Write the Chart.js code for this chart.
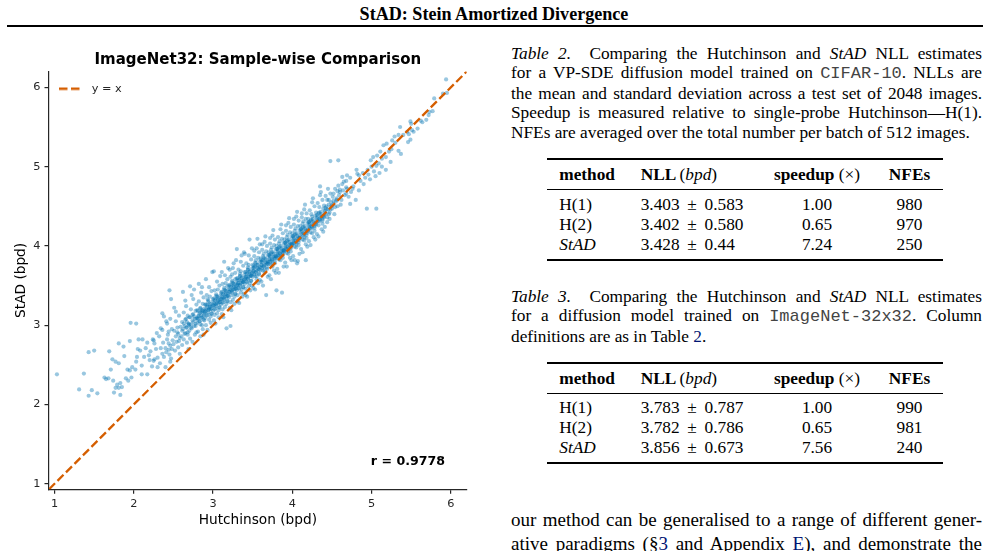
<!DOCTYPE html>
<html>
<head>
<meta charset="utf-8">
<script src="https://cdn.jsdelivr.net/npm/chart.js@4.4.0/dist/chart.umd.min.js"></script>
<style>
  body { margin: 0; width: 988px; height: 551px; overflow: hidden; background: #fff; position: relative;
         font-family: "Liberation Serif", "Times New Roman", serif; color: #000; }
  #head { position: absolute; top: 4px; left: 0; width: 988px; text-align: center; font-weight: bold; font-size: 18.1px; line-height: 20px; }
  #rule { position: absolute; top: 24.5px; left: 7px; width: 976px; border-top: 2px solid #000; }
  #plot { position: absolute; left: 0; top: 30px; width: 480px; height: 521px; }
  .txt { position: absolute; left: 511px; width: 471px; font-size: 17.3px; line-height: 19.6px; }
  .j { text-align: justify; text-align-last: justify; }
  .tt { font-family: "Liberation Mono", monospace; font-size: 17px; color: #444; }
  .lnk { color: #001473; }
  .tbl { position: absolute; left: 547px; width: 396px; height: 104px; font-size: 17.3px; }
  .tbl .r2 { position: absolute; left: 0; width: 396px; border-top: 2px solid #000; }
  .tbl .r1 { position: absolute; left: 0; width: 396px; border-top: 1.2px solid #000; }
  .tbl .row { position: absolute; left: 0; width: 396px; height: 20px; line-height: 20px; display: flex; white-space: nowrap; }
  .tbl .c1 { width: 81px; padding-left: 12.3px; box-sizing: border-box; }
  .tbl .c2 { width: 130px; padding-left: 12.7px; box-sizing: border-box; }
  .tbl .c3 { width: 118px; text-align: center; }
  .tbl .c4 { width: 67px; text-align: center; }
  .pm { display: inline-block; width: 25px; text-align: center; }
  .hd { font-weight: bold; }
  .hd .n { font-weight: normal; }
</style>
</head>
<body>
<div id="head">StAD: Stein Amortized Divergence</div>
<div id="rule"></div>

<div id="plot"><canvas id="scatter-chart"></canvas></div>

<div class="txt" style="top:43.5px">
  <div class="j"><i>Table 2.</i>&nbsp; Comparing the Hutchinson and <i>StAD</i> NLL estimates</div>
  <div class="j">for a VP-SDE diffusion model trained on <span class="tt">CIFAR-10</span>. NLLs are</div>
  <div class="j">the mean and standard deviation across a test set of 2048 images.</div>
  <div class="j">Speedup is measured relative to single-probe Hutchinson—H(1).</div>
  <div>NFEs are averaged over the total number per batch of 512 images.</div>
</div>

<div class="tbl" style="top:158.3px">
  <div class="r2" style="top:0"></div>
  <div class="row hd" style="top:6.5px"><div class="c1">method</div><div class="c2">NLL <span class="n">(<i>bpd</i>)</span></div><div class="c3">speedup <span class="n">(×)</span></div><div class="c4">NFEs</div></div>
  <div class="r1" style="top:31.1px"></div>
  <div class="row" style="top:36.7px"><div class="c1">H(1)</div><div class="c2">3.403<span class="pm">±</span>0.583</div><div class="c3">1.00</div><div class="c4">980</div></div>
  <div class="row" style="top:56.7px"><div class="c1">H(2)</div><div class="c2">3.402<span class="pm">±</span>0.580</div><div class="c3">0.65</div><div class="c4">970</div></div>
  <div class="row" style="top:76.5px"><div class="c1"><i>StAD</i></div><div class="c2">3.428<span class="pm">±</span>0.44</div><div class="c3">7.24</div><div class="c4">250</div></div>
  <div class="r2" style="top:100.5px"></div>
</div>

<div class="txt" style="top:286.9px">
  <div class="j"><i>Table 3.</i>&nbsp; Comparing the Hutchinson and <i>StAD</i> NLL estimates</div>
  <div class="j">for a diffusion model trained on <span class="tt">ImageNet-32x32</span>. Column</div>
  <div>definitions are as in Table <span class="lnk">2</span>.</div>
</div>

<div class="tbl" style="top:362.3px">
  <div class="r2" style="top:0"></div>
  <div class="row hd" style="top:6.5px"><div class="c1">method</div><div class="c2">NLL <span class="n">(<i>bpd</i>)</span></div><div class="c3">speedup <span class="n">(×)</span></div><div class="c4">NFEs</div></div>
  <div class="r1" style="top:31.1px"></div>
  <div class="row" style="top:36.2px"><div class="c1">H(1)</div><div class="c2">3.783<span class="pm">±</span>0.787</div><div class="c3">1.00</div><div class="c4">990</div></div>
  <div class="row" style="top:56.2px"><div class="c1">H(2)</div><div class="c2">3.782<span class="pm">±</span>0.786</div><div class="c3">0.65</div><div class="c4">981</div></div>
  <div class="row" style="top:76px"><div class="c1"><i>StAD</i></div><div class="c2">3.856<span class="pm">±</span>0.673</div><div class="c3">7.56</div><div class="c4">240</div></div>
  <div class="r2" style="top:100px"></div>
</div>

<div class="txt" style="top:507.7px; font-size:19px; line-height:24.6px">
  <div class="j">our method can be generalised to a range of different gener-</div>
  <div class="j">ative paradigms (§<span class="lnk">3</span> and Appendix <span class="lnk">E</span>), and demonstrate the</div>
</div>

<script>
// per-sample NLL, [Hutchinson, StAD] in bpd
var tailSamples = [
  [1.03,2.38],[1.31,2.19],[1.37,2.39],[1.43,2.66],[1.50,2.68],[1.43,2.11],[1.47,2.18],[1.54,2.14],
  [1.63,2.34],[1.65,2.32],[1.68,2.33],[1.74,2.30],[1.69,2.67],[1.73,2.57],[1.71,2.44],[1.77,2.54],
  [1.81,2.77],[1.87,2.73],[1.81,2.52],[1.88,2.61],[1.92,2.44],[1.95,2.43],[1.98,2.47],[1.83,2.27],
  [1.85,2.22],[1.77,2.21],[1.75,2.15],[1.81,2.21],[1.79,2.25],[1.90,2.33],[1.97,2.34],[1.93,2.30],
  [1.83,2.12],[1.95,2.80],[1.96,3.03],[2.03,3.02],[2.04,2.60],[2.03,2.54],[2.06,2.82],[2.11,2.82],
  [2.05,2.70],[2.08,2.68],[2.10,2.49],[2.02,2.44],[2.17,2.78],[2.15,2.71],[2.13,2.60],[2.20,2.56],
  [2.21,2.67],[2.23,2.48],[2.25,2.55],[2.17,2.38],[2.10,2.38],[2.24,2.82],[2.25,2.81],[2.29,2.90],
  [2.26,2.77],[2.34,2.96],[2.36,2.94],[2.34,2.71],[2.30,2.59],[2.26,2.57],[2.38,2.60],[2.36,2.64],
  [2.30,2.47],[2.36,3.15],[2.38,3.11],[2.41,3.05],[2.45,3.44],[2.47,3.33],[2.42,2.82],[2.44,2.77],
  [2.40,2.71],[2.44,2.69],[2.45,2.63],[2.40,2.47],[2.46,2.54],[2.53,3.17],[2.32,2.86],[2.28,2.70],
  [2.37,2.78],[2.33,2.52],[2.19,2.62]
];

var bandSamples = [
  [2.41,2.66],[2.43,2.88],[2.46,2.74],[2.48,2.95],[2.42,3.02],[2.47,2.58],[2.49,2.81],[2.44,2.92],[2.46,3.08],[2.48,2.70],
  [2.50,2.76],[2.51,2.93],[2.52,2.68],[2.53,2.86],[2.53,3.05],[2.54,2.79],[2.55,2.97],[2.56,2.72],[2.56,2.89],[2.57,3.12],
  [2.58,2.84],[2.58,2.64],[2.59,2.98],[2.51,3.22],[2.55,2.91],[2.57,2.80],
  [2.60,2.86],[2.61,3.04],[2.61,2.75],[2.62,2.95],[2.63,3.16],[2.63,2.82],[2.64,2.99],[2.65,3.31],[2.65,2.90],[2.66,3.08],
  [2.67,2.78],[2.67,2.97],[2.68,3.12],[2.68,2.88],[2.69,3.02],[2.69,2.70],[2.62,3.42],[2.66,3.24],
  [2.70,2.93],[2.70,3.10],[2.71,2.83],[2.72,3.01],[2.72,3.20],[2.73,2.96],[2.74,3.06],[2.74,2.79],[2.75,3.14],[2.75,3.33],
  [2.76,2.99],[2.77,3.08],[2.77,2.88],[2.78,3.18],[2.78,3.02],[2.79,2.91],[2.79,3.26],[2.71,3.49],[2.76,3.45],[2.73,3.38],
  [2.80,3.03],[2.80,3.19],[2.81,2.92],[2.81,3.11],[2.82,3.30],[2.83,3.05],[2.83,3.15],[2.84,2.86],[2.84,3.22],[2.85,3.09],
  [2.85,3.41],[2.86,3.00],[2.86,3.17],[2.87,3.27],[2.87,2.95],[2.88,3.12],[2.88,3.35],[2.89,3.06],[2.89,3.21],[2.82,3.52],
  [2.86,3.48],[2.84,3.01],[2.88,2.88],[2.81,3.08],
  [2.90,3.09],[2.90,3.26],[2.91,3.00],[2.91,3.18],[2.92,3.38],[2.92,3.12],[2.93,3.23],[2.93,2.94],[2.94,3.31],[2.94,3.16],
  [2.95,3.48],[2.95,3.07],[2.96,3.25],[2.96,3.36],[2.97,3.03],[2.97,3.20],[2.98,3.43],[2.98,3.14],[2.99,3.29],[2.99,3.67],
  [2.91,3.58],[2.95,3.21],[2.97,3.11],[2.93,3.33],
  [3.00,3.18],[3.00,3.33],[3.01,3.06],[3.01,3.25],[3.02,3.44],[3.02,3.20],[3.03,3.31],[3.03,3.02],[3.04,3.39],[3.04,3.24],
  [3.05,3.55],[3.05,3.15],[3.06,3.33],[3.06,3.45],[3.07,3.10],[3.07,3.28],[3.08,3.50],[3.08,3.22],[3.09,3.37],[3.09,3.62],
  [3.01,3.68],[3.03,3.27],[3.05,3.36],[3.07,3.19],[3.09,3.29],[3.02,3.13],
  [3.10,3.26],[3.10,3.41],[3.11,3.14],[3.11,3.33],[3.12,3.52],[3.12,3.28],[3.13,3.39],[3.13,3.10],[3.14,3.47],[3.14,3.32],
  [3.15,3.63],[3.15,3.23],[3.16,3.41],[3.16,3.53],[3.17,2.96],[3.17,3.36],[3.18,3.58],[3.18,3.30],[3.19,3.45],[3.19,3.72],
  [3.11,3.67],[3.13,3.35],[3.15,3.44],[3.17,3.27],[3.19,3.37],[3.12,3.20],[3.14,3.80],[3.18,3.49],
  [3.20,3.35],[3.20,3.50],[3.21,3.22],[3.21,3.42],[3.22,3.61],[3.22,2.99],[3.23,3.48],[3.23,3.19],[3.24,3.56],[3.24,3.41],
  [3.25,3.72],[3.25,3.32],[3.26,3.50],[3.26,3.78],[3.27,3.27],[3.27,3.45],[3.28,3.66],[3.28,3.39],[3.29,3.54],[3.29,3.82],
  [3.21,3.70],[3.23,3.44],[3.25,3.53],[3.27,3.36],[3.29,3.46],[3.22,3.29],[3.24,3.64],[3.28,3.58],
  [3.30,3.44],[3.30,3.59],[3.31,3.30],[3.31,3.51],[3.32,3.70],[3.32,3.47],[3.33,3.57],[3.33,3.28],[3.34,3.65],[3.34,3.50],
  [3.35,3.80],[3.35,3.41],[3.36,3.59],[3.36,3.88],[3.37,3.36],[3.37,3.54],[3.38,3.75],[3.38,3.48],[3.39,3.63],[3.39,3.92],
  [3.30,3.96],[3.32,3.53],[3.34,3.62],[3.36,3.45],[3.38,3.55],[3.31,3.38],[3.35,3.68],[3.39,3.40],
  [3.40,3.52],[3.40,3.67],[3.41,3.38],[3.41,3.59],[3.42,3.78],[3.42,3.55],[3.43,3.65],[3.43,3.36],[3.44,3.73],[3.44,3.58],
  [3.45,3.88],[3.45,3.49],[3.46,3.67],[3.46,4.08],[3.47,3.44],[3.47,3.62],[3.48,3.83],[3.48,3.56],[3.49,3.71],[3.49,3.97],
  [3.40,3.90],[3.42,3.61],[3.44,3.70],[3.46,3.53],[3.48,3.63],[3.41,3.46],[3.45,3.76],[3.49,3.50],
  [3.50,3.61],[3.50,3.76],[3.51,3.47],[3.51,3.68],[3.52,3.87],[3.52,3.64],[3.53,3.74],[3.53,3.45],[3.54,3.82],[3.54,3.67],
  [3.55,3.97],[3.55,3.58],[3.56,3.76],[3.56,4.09],[3.57,3.53],[3.57,3.71],[3.58,3.92],[3.58,3.65],[3.59,3.80],[3.59,4.02],
  [3.51,3.72],[3.53,3.79],[3.55,3.62],[3.57,3.85],[3.59,3.57],[3.52,3.94],
  [3.60,3.69],[3.60,3.84],[3.61,3.55],[3.61,3.76],[3.62,3.95],[3.62,3.72],[3.63,3.82],[3.63,3.50],[3.64,3.90],[3.64,3.75],
  [3.65,4.05],[3.65,3.66],[3.66,3.84],[3.66,4.12],[3.67,3.38],[3.67,3.79],[3.68,4.00],[3.68,3.73],[3.69,3.88],[3.69,3.61],
  [3.61,3.80],[3.63,3.87],[3.65,3.70],[3.67,3.93],[3.69,3.78],[3.62,4.02],
  [3.70,3.77],[3.70,3.92],[3.71,3.63],[3.71,3.84],[3.72,4.03],[3.72,3.80],[3.73,3.90],[3.73,3.58],[3.74,3.98],[3.74,3.83],
  [3.75,4.13],[3.75,3.74],[3.76,3.92],[3.76,4.20],[3.77,3.69],[3.77,3.87],[3.78,4.08],[3.78,3.81],[3.79,3.96],[3.79,3.66],
  [3.71,3.88],[3.73,3.95],[3.75,3.78],[3.77,4.01],[3.79,3.86],[3.72,4.10],
  [3.80,3.85],[3.80,4.00],[3.81,3.71],[3.81,3.92],[3.82,4.11],[3.82,3.88],[3.83,3.98],[3.83,3.66],[3.84,4.06],[3.84,3.91],
  [3.85,4.21],[3.85,3.82],[3.86,4.00],[3.86,4.27],[3.87,3.41],[3.87,3.95],[3.88,4.16],[3.88,3.89],[3.89,4.04],[3.89,3.74],
  [3.81,3.96],[3.83,4.03],[3.85,3.86],[3.87,4.09],[3.89,3.94],[3.80,3.44],
  [3.90,3.93],[3.90,4.08],[3.91,3.79],[3.91,4.00],[3.92,4.19],[3.92,3.96],[3.93,4.06],[3.93,3.74],[3.94,4.14],[3.94,3.99],
  [3.95,4.29],[3.95,3.90],[3.96,4.08],[3.96,4.35],[3.97,3.85],[3.97,4.03],[3.98,4.24],[3.98,3.97],[3.99,4.12],[3.99,3.82],
  [3.91,4.04],[3.93,4.11],[3.95,3.94],[3.97,4.17],[3.99,4.02],[3.92,4.26],
  [4.00,4.01],[4.00,4.16],[4.01,3.87],[4.01,4.08],[4.02,4.27],[4.02,4.04],[4.03,4.14],[4.03,3.82],[4.04,4.22],[4.04,4.07],
  [4.05,4.37],[4.05,3.98],[4.06,4.16],[4.06,4.43],[4.07,3.81],[4.07,4.11],[4.08,4.32],[4.08,4.05],[4.09,4.20],[4.09,3.90],
  [4.01,4.12],[4.03,4.19],[4.05,4.02],[4.07,4.25],[4.09,4.10],[4.02,4.34],[4.06,3.78],
  [4.10,4.10],[4.10,4.25],[4.11,3.96],[4.11,4.17],[4.12,4.36],[4.12,4.41],[4.13,4.23],[4.13,3.92],[4.14,4.31],[4.14,4.16],
  [4.15,4.46],[4.15,4.07],[4.16,4.25],[4.16,4.52],[4.17,4.02],[4.17,4.20],[4.18,4.41],[4.18,4.14],[4.19,4.29],[4.19,3.99],
  [4.11,4.21],[4.13,4.28],[4.15,4.11],[4.17,4.34],[4.17,3.82],
  [4.20,4.19],[4.20,4.34],[4.21,4.06],[4.21,4.26],[4.22,4.45],[4.22,4.22],[4.23,4.32],[4.23,4.01],[4.24,4.40],[4.24,4.25],
  [4.25,4.55],[4.25,4.16],[4.26,4.34],[4.26,4.60],[4.27,4.11],[4.27,4.29],[4.28,4.50],[4.28,4.23],[4.29,4.38],[4.29,4.08],
  [4.21,4.30],[4.25,4.37],
  [4.30,4.27],[4.30,4.42],[4.31,4.15],[4.31,4.35],[4.32,4.54],[4.32,4.31],[4.33,4.41],[4.33,4.12],[4.34,4.49],[4.34,4.34],
  [4.35,4.64],[4.36,4.43],[4.36,4.68],[4.37,4.21],[4.37,4.38],[4.38,4.58],[4.38,4.32],[4.39,4.47],[4.39,4.18],
  [4.40,4.36],[4.40,4.51],[4.41,4.24],[4.41,4.44],[4.42,4.63],[4.42,4.40],[4.43,4.50],[4.44,4.58],[4.44,4.30],[4.45,4.72],
  [4.46,4.52],[4.46,4.58],[4.47,4.34],[4.48,4.46],[4.48,4.66],[4.49,4.55],
  [4.50,4.47],[4.51,4.62],[4.52,4.66],[4.53,4.40],[4.54,4.72],[4.55,4.56],[4.56,4.60],[4.57,4.50],[4.58,4.76],[4.59,4.64],
  [4.52,4.53],[4.57,4.69],
  [4.60,4.71],[4.62,4.58],[4.63,4.78],[4.65,4.81],[4.66,4.64],[4.68,4.74],[4.69,4.72],[4.61,4.52]
];

// the dark core of the band, where the points pile up
var coreSamples = [
  [2.61,2.93],[2.63,3.02],[2.64,2.89],[2.65,3.07],[2.66,2.97],[2.67,3.04],[2.68,2.91],[2.69,3.00],
  [2.70,3.01],[2.71,3.10],[2.72,2.97],[2.74,3.13],[2.75,3.04],[2.76,3.11],[2.78,2.99],[2.79,3.08],
  [2.80,3.09],[2.81,3.18],[2.83,3.05],[2.84,3.21],[2.85,3.12],[2.86,3.19],[2.88,3.07],[2.89,3.16],
  [2.90,3.17],[2.91,3.26],[2.93,3.13],[2.94,3.29],[2.95,3.20],[2.96,3.27],[2.98,3.15],[2.99,3.24],
  [3.00,3.25],[3.01,3.34],[3.03,3.21],[3.04,3.37],[3.05,3.28],[3.06,3.35],[3.08,3.23],[3.09,3.32],
  [3.10,3.33],[3.11,3.42],[3.13,3.29],[3.14,3.45],[3.15,3.36],[3.16,3.43],[3.18,3.31],[3.19,3.40],
  [3.20,3.42],[3.21,3.51],[3.23,3.38],[3.24,3.54],[3.25,3.45],[3.26,3.52],[3.28,3.40],[3.29,3.49],
  [3.30,3.50],[3.31,3.59],[3.33,3.46],[3.34,3.62],[3.35,3.53],[3.36,3.60],[3.38,3.48],[3.39,3.57],
  [3.40,3.58],[3.41,3.67],[3.43,3.54],[3.44,3.70],[3.45,3.61],[3.46,3.68],[3.48,3.56],[3.49,3.65],
  [3.50,3.66],[3.51,3.75],[3.53,3.62],[3.54,3.78],[3.55,3.69],[3.56,3.76],[3.58,3.64],[3.59,3.73],
  [3.60,3.73],[3.61,3.82],[3.63,3.69],[3.64,3.85],[3.65,3.76],[3.66,3.83],[3.68,3.71],[3.69,3.80],
  [3.70,3.80],[3.71,3.89],[3.73,3.76],[3.74,3.92],[3.75,3.83],[3.76,3.90],[3.78,3.78],[3.79,3.87],
  [3.80,3.87],[3.81,3.96],[3.83,3.83],[3.84,3.99],[3.85,3.90],[3.86,3.97],[3.88,3.85],[3.89,3.94],
  [3.90,3.95],[3.91,4.04],[3.93,3.91],[3.94,4.07],[3.95,3.98],[3.96,4.05],[3.98,3.93],[3.99,4.02],
  [4.00,4.03],[4.01,4.12],[4.03,3.99],[4.04,4.15],[4.05,4.06],[4.06,4.13],[4.08,4.01],[4.09,4.10],
  [4.10,4.12],[4.11,4.21],[4.13,4.08],[4.14,4.24],[4.15,4.15],[4.16,4.22],[4.18,4.10],[4.19,4.19],
  [4.20,4.21],[4.21,4.30],[4.23,4.17],[4.24,4.33],[4.25,4.24],[4.26,4.31],[4.28,4.19],[4.29,4.28],
  [4.30,4.30],[4.31,4.39],[4.33,4.26],[4.34,4.42],[4.35,4.33],[4.36,4.40],[4.38,4.28],[4.39,4.37],
  [4.40,4.39],[4.42,4.48],[4.44,4.36],[4.45,4.46],[4.47,4.42],[4.49,4.50],
  [4.50,4.51],[4.52,4.57],[4.54,4.49],[4.56,4.58]
];

// centre line of the core, the darkest part
var ridgeSamples = [
  [2.82,3.12],[2.84,3.16],[2.86,3.10],[2.87,3.18],[2.89,3.14],
  [2.91,3.20],[2.92,3.25],[2.94,3.19],[2.96,3.23],[2.98,3.21],
  [3.01,3.28],[3.02,3.32],[3.04,3.26],[3.06,3.31],[3.08,3.29],
  [3.11,3.36],[3.12,3.40],[3.14,3.34],[3.16,3.39],[3.18,3.37],
  [3.21,3.45],[3.22,3.49],[3.24,3.43],[3.26,3.48],[3.28,3.46],
  [3.31,3.53],[3.32,3.57],[3.34,3.51],[3.36,3.56],[3.38,3.54],
  [3.41,3.61],[3.42,3.65],[3.44,3.59],[3.46,3.64],[3.48,3.62],
  [3.51,3.69],[3.52,3.73],[3.54,3.67],[3.56,3.72],[3.58,3.70],
  [3.61,3.76],[3.62,3.80],[3.64,3.74],[3.66,3.79],[3.68,3.77],
  [3.71,3.83],[3.72,3.87],[3.74,3.81],[3.76,3.86],[3.78,3.84],
  [3.81,3.90],[3.82,3.94],[3.84,3.88],[3.86,3.93],[3.88,3.91],
  [3.91,3.98],[3.92,4.02],[3.94,3.96],[3.96,4.01],[3.98,3.99],
  [4.01,4.06],[4.02,4.10],[4.04,4.04],[4.06,4.09],[4.08,4.07],
  [4.11,4.15],[4.12,4.19],[4.14,4.13],[4.16,4.18],[4.18,4.16],
  [4.21,4.24],[4.22,4.28],[4.24,4.22],[4.26,4.27],[4.28,4.25],
  [4.31,4.33],[4.32,4.37],[4.34,4.31],[4.36,4.36],[4.38,4.34],
  [4.41,4.42],[4.43,4.46],[4.46,4.40]
];

var upperSamples = [
  [5.94,6.10],[5.95,5.93],[5.90,5.92],[5.79,5.86],[5.77,5.70],[5.73,5.69],[5.72,5.65],[5.69,5.59],[5.64,5.56],[5.62,5.58],
  [5.49,5.57],[5.50,5.54],[5.58,5.48],[5.53,5.44],[5.51,5.46],[5.45,5.44],[5.47,5.41],[5.36,5.50],[5.40,5.40],[5.34,5.40],
  [5.29,5.38],[5.49,5.34],[5.46,5.31],[5.26,5.33],[5.30,5.30],[5.19,5.29],[5.15,5.27],[5.25,5.22],[5.22,5.19],[5.34,5.20],
  [5.37,5.16],[5.24,5.06],[5.11,5.19],[5.07,5.14],[5.13,5.10],[5.18,5.12],[5.02,5.12],[4.99,5.08],[5.09,5.04],[5.06,5.01],
  [5.00,5.00],[4.95,4.96],[5.13,5.00],[5.18,4.96],[5.10,4.92],[5.05,4.88],[4.89,4.92],[4.84,4.89],[4.96,4.90],[4.98,4.84],
  [4.81,4.96],[4.73,4.86],[4.68,4.82],[4.86,4.82],[4.90,4.78],[4.63,4.87],[4.69,4.89],[4.82,4.91],[4.60,4.68],[4.64,4.70],
  [4.68,4.66],[4.74,4.68],[4.73,4.53],[4.80,4.58],[4.77,4.75],[4.71,4.62],[4.76,4.72],[4.84,4.70],[4.92,4.86],[5.03,4.94]
];

var outlierSamples = [[4.48,5.07],[4.58,5.08],[4.35,4.75],[4.94,4.47],[5.06,4.47]];

var axisMin = 0.93, axisMax = 6.2;
var xTickValues = [1, 2, 3, 4, 5, 6];
var yTickValues = [1, 2, 3, 4, 5, 6];
var corrLabel = 'r = 0.9778';

var lineColor = '#d55e00';
var pointColor = 'rgba(1, 115, 178, 0.4)';
var axisColor = '#262626';

var points = tailSamples.concat(bandSamples, coreSamples, ridgeSamples, upperSamples, outlierSamples).map(function(p) {
    return {x: p[0], y: p[1]};
});

// little dashed glyph for the legend (line + gap before text)
var legendGlyph = document.createElement('canvas');
legendGlyph.width = 27;
legendGlyph.height = 4;
var g = legendGlyph.getContext('2d');
g.strokeStyle = lineColor;
g.lineWidth = 2.3;
g.setLineDash([8.5, 3.5]);
g.beginPath();
g.moveTo(0, 2);
g.lineTo(21, 2);
g.stroke();

var corrText = {
    id: 'corrText',
    afterDatasetsDraw: function(chart) {
        var ctx = chart.ctx, area = chart.chartArea;
        ctx.save();
        ctx.font = 'bold 12.6px "DejaVu Sans"';
        ctx.fillStyle = '#000';
        ctx.textAlign = 'right';
        ctx.textBaseline = 'middle';
        ctx.fillText(corrLabel, area.right - 21.7, area.bottom - 27.6);
        ctx.restore();
    }
};

// the chartArea legend keeps top = 0 for a vertical list, pull it into the plot
var legendInPlot = {
    id: 'legendInPlot',
    afterLayout: function(chart) {
        var lg = chart.legend;
        if (!lg) return;
        var h = lg.bottom - lg.top;
        lg.top = chart.chartArea.top + 1.5;
        lg.bottom = lg.top + h;
    }
};

function axisOptions(ticks, label, isX) {
    return {
        type: 'linear',
        min: axisMin,
        max: axisMax,
        afterBuildTicks: function(scale) {
            scale.ticks = ticks.map(function(v) { return {value: v}; });
        },
        afterFit: function(scale) {
            if (isX) scale.height = 61.7;
            else scale.width = 49;
        },
        border: {display: true, color: axisColor, width: 1.2},
        grid: {display: true, drawOnChartArea: false, drawTicks: true, tickLength: 4.5, color: axisColor, lineWidth: 1.2},
        ticks: {
            color: axisColor,
            font: {size: 11.3},
            padding: isX ? 3 : 4,
            maxRotation: 0
        },
        title: {
            display: true,
            text: label,
            color: '#000',
            font: {size: 13.7},
            padding: isX ? {top: 0, bottom: 22.8} : {top: 12.8, bottom: 0}
        }
    };
}

Chart.defaults.font.family = '"DejaVu Sans", sans-serif';

var ctx = document.getElementById('scatter-chart');
new Chart(ctx, {
    type: 'scatter',
    data: {
        datasets: [{
            label: 'y = x',
            data: [{x: axisMin, y: axisMin}, {x: axisMax, y: axisMax}],
            showLine: true,
            borderColor: lineColor,
            borderWidth: 2.3,
            borderDash: [8.5, 3.5],
            pointRadius: 0,
            order: 0
        }, {
            label: 'samples',
            data: points,
            backgroundColor: pointColor,
            borderWidth: 0,
            pointRadius: 2.1,
            order: 1
        }]
    },
    options: {
        responsive: true,
        maintainAspectRatio: false,
        devicePixelRatio: 1,
        animation: false,
        events: [],
        layout: {padding: {left: 0, right: 13.3, top: 0, bottom: 0}},
        scales: {
            x: axisOptions(xTickValues, 'Hutchinson (bpd)', true),
            y: axisOptions(yTickValues, 'StAD (bpd)', false)
        },
        plugins: {
            title: {
                display: true,
                text: 'ImageNet32: Sample-wise Comparison',
                fullSize: false,
                color: '#000',
                font: {size: 15, weight: 'bold'},
                padding: {top: 21, bottom: 2.5}
            },
            legend: {
                position: 'chartArea',
                align: 'start',
                labels: {
                    filter: function(item) { return item.datasetIndex === 0; },
                    usePointStyle: true,
                    pointStyle: legendGlyph,
                    pointStyleWidth: 27,
                    padding: 10,
                    color: axisColor,
                    font: {size: 11.3}
                }
            },
            tooltip: {enabled: false}
        }
    },
    plugins: [corrText, legendInPlot]
});
</script>
</body>
</html>
